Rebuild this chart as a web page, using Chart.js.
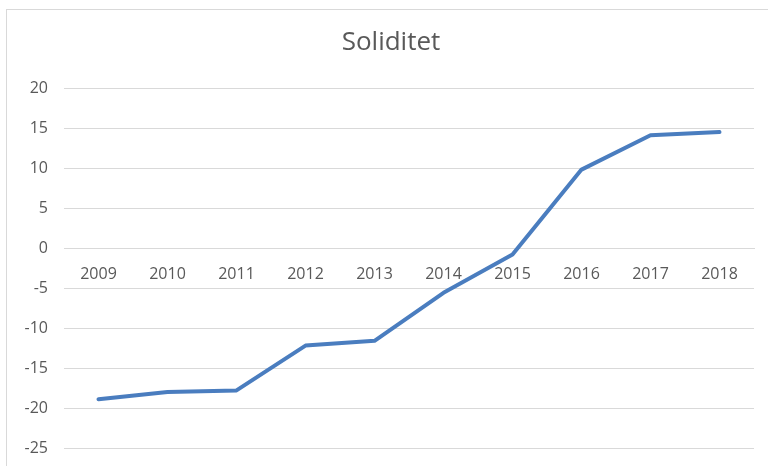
<!DOCTYPE html>
<html>
<head>
<meta charset="utf-8">
<script src="https://cdn.jsdelivr.net/npm/chart.js@4/dist/chart.umd.min.js"></script>
<style>
  html, body { margin: 0; padding: 0; background: #fff; overflow: hidden; }
  #frame {
    position: absolute; left: 6px; top: 9px; width: 800px; height: 500px;
    border: 1px solid #d9d9d9; box-sizing: border-box;
  }
  #wrap { position: absolute; left: 0; top: 0; width: 768px; height: 466px; }
</style>
</head>
<body>
<div id="frame"></div>
<div id="wrap"><canvas id="chart"></canvas></div>
<script>
// --- data ---
const years = ['2009', '2010', '2011', '2012', '2013', '2014', '2015', '2016', '2017', '2018'];
const soliditet = [-18.9, -18.0, -17.8, -12.2, -11.6, -5.6, -0.8, 9.8, 14.1, 14.5];
const yTicks = [20, 15, 10, 5, 0, -5, -10, -15, -20, -25];
const TITLE = 'Soliditet';

const GREY = '#595959';
const GRID = '#d9d9d9';

// titel centreras över diagramramen (inte över canvas)
const frameTitle = {
    id: 'frameTitle',
    afterDraw(chart) {
        const c = chart.ctx;
        c.save();
        c.font = "26px 'Open Sans', sans-serif";
        c.fillStyle = GREY;
        c.textAlign = 'center';
        c.textBaseline = 'middle';
        c.fillText(TITLE, 391, 43);
        c.restore();
    }
};

document.addEventListener('DOMContentLoaded', () => {
    Chart.defaults.font.family = "'Open Sans', sans-serif";
    const ctx = document.getElementById('chart').getContext('2d');
    new Chart(ctx, {
        type: 'line',
        data: {
            labels: years,
            datasets: [{
                label: TITLE,
                data: soliditet,
                borderColor: '#4a7dbf',
                borderWidth: 4,
                borderCapStyle: 'round',
                borderJoinStyle: 'round',
                pointRadius: 0,
                tension: 0,
                fill: false
            }]
        },
        options: {
            responsive: true,
            maintainAspectRatio: false,
            animation: false,
            layout: { padding: { left: 0, right: 14, bottom: 18, top: 88 } },
            scales: {
                x: {
                    type: 'category',
                    offset: true,
                    position: { y: 0 },
                    afterFit: (scale) => { scale.height = 0; },
                    grid: { display: false },
                    border: { display: true, color: GRID, width: 1 },
                    ticks: { color: GREY, font: { size: 16 }, padding: 9, maxRotation: 0 }
                },
                y: {
                    min: Math.min(...yTicks),
                    max: Math.max(...yTicks),
                    afterBuildTicks: (scale) => {
                        scale.ticks = yTicks.slice().reverse().map(v => ({ value: v }));
                    },
                    afterFit: (scale) => { scale.width = 64; },
                    grid: { color: GRID, lineWidth: 1, drawTicks: true, tickLength: 8, tickColor: 'rgba(0,0,0,0)' },
                    border: { display: false },
                    ticks: { color: GREY, font: { size: 16 }, padding: 8 }
                }
            },
            plugins: {
                legend: { display: false },
                tooltip: { enabled: false },
                title: { display: false }
            }
        },
        plugins: [frameTitle]
    });
});
</script>
</body>
</html>
